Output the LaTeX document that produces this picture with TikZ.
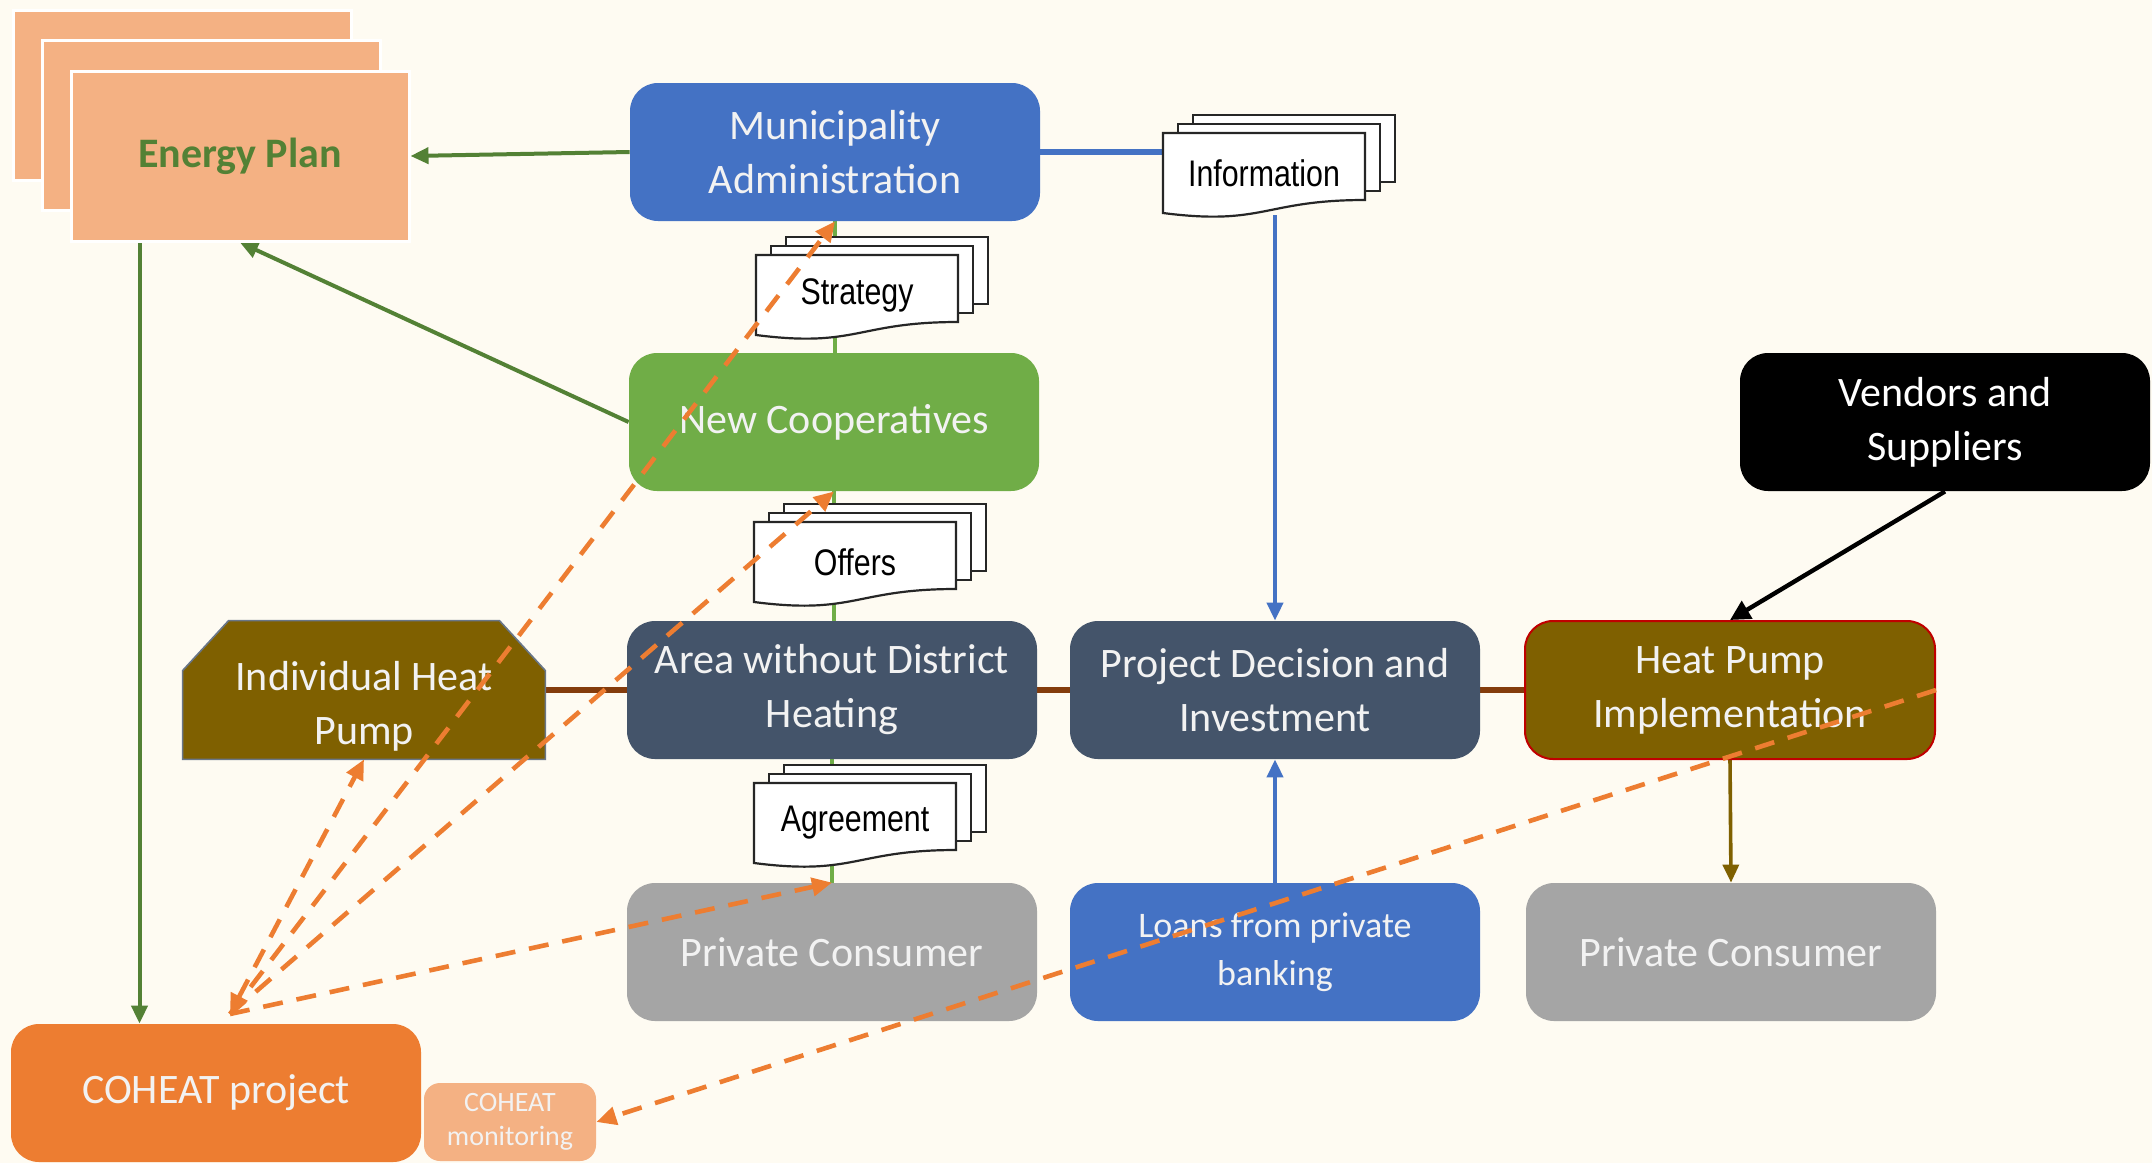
\documentclass[tikz,border=0pt]{standalone}
\usepackage{fontspec}
\setmainfont{Carlito}
\newfontfamily\docfont[FakeStretch=0.82]{Liberation Sans}
\usetikzlibrary{arrows.meta,calc}
\definecolor{bgc}{HTML}{FEFBF2}
\definecolor{mblue}{HTML}{4472C4}
\definecolor{cgreen}{HTML}{70AD47}
\definecolor{dgreen}{HTML}{538135}
\definecolor{slate}{HTML}{44546A}
\definecolor{hpbrown}{HTML}{7F6000}
\definecolor{hpred}{HTML}{C00000}
\definecolor{rust}{HTML}{843C0C}
\definecolor{pcgray}{HTML}{A5A5A5}
\definecolor{corange}{HTML}{ED7D31}
\definecolor{epfill}{HTML}{F4B183}
\definecolor{boxtxt}{HTML}{F2F2F2}
\pgfdeclarelayer{bgl}\pgfdeclarelayer{conl}\pgfdeclarelayer{shl}
\pgfsetlayers{bgl,conl,shl,main}
\newcommand\docstk[4]{%
  \draw[docline] (#2+30,#3-18) rectangle (#2+232,#3+49);
  \draw[docline] (#2+15,#3-9) rectangle (#2+217,#3+58);
  \draw[docline] (#2,#3) -- (#2+202,#3) -- (#2+202,#3+67)
     .. controls (#2+101,#3+67) and (#2+101,#3+93) .. (#2,#3+80) -- cycle;
  \node[inner sep=0pt, minimum width=101pt, minimum height=42pt,
        font=\docfont\fontsize{18.5}{22}\selectfont] (#1) at (#2+101,#3+40) {#4};
}
\begin{document}
\begin{tikzpicture}[x=0.5pt,y=-0.5pt,
  box/.style={rounded corners=14pt, minimum width=205pt, minimum height=69pt,
    inner sep=0pt, align=center, text=boxtxt, font=\fontsize{21}{27}\selectfont},
  epsheet/.style={fill=epfill, draw=white, line width=1.5pt, minimum width=169pt,
    minimum height=85pt, inner sep=0pt},
  docline/.style={fill=white, draw=black!85, line width=1.1pt},
  tip/.style={-{Triangle[length=9pt,width=8pt]}},
  gline/.style={draw=dgreen, line width=2pt, tip},
  gthin/.style={draw=cgreen, line width=1.8pt},
  bline/.style={draw=mblue, line width=2pt},
  odash/.style={draw=corange, line width=2.3pt, dash pattern=on 10pt off 7pt,
    -{Triangle[length=10pt,width=9pt]}},
]
\begin{pgfonlayer}{bgl}
\fill[bgc] (0,0) rectangle (2152,1163);
\end{pgfonlayer}
\useasboundingbox (0,0) rectangle (2152,1163);

% Energy plan stack
\node[epsheet] (ep3) at (182,95) {};
\node[epsheet] (ep2) at (211,125) {};
\node[epsheet, font=\bfseries\fontsize{21}{27}\selectfont, text=dgreen] (ep) at (240,156) {Energy Plan};

% main boxes
\node[box, fill=mblue] (muni) at (835,152) {Municipality\\Administration};
\node[box, fill=cgreen] (coop) at (834,422) {New Cooperatives};
\node[box, fill=slate] (area) at (832,690) {Area without District\\Heating};
\node[box, fill=slate] (proj) at (1275,690) {Project Decision and\\Investment};
\node[box, fill=hpbrown, draw=hpred, line width=1pt] (hpi) at (1730,690) {Heat Pump\\Implementation};
\node[box, fill=black, text=white] (vend) at (1945,422) {Vendors and\\Suppliers};
\node[box, fill=pcgray] (pc1) at (832,952) {Private Consumer};
\node[box, fill=mblue, font=\fontsize{18}{24}\selectfont] (loan) at (1275,952) {Loans from private\\banking};
\node[box, fill=pcgray] (pc2) at (1731,952) {Private Consumer};
\node[box, fill=corange] (coh) at (216,1093) {COHEAT project};
\node[box, fill=epfill, minimum width=86pt, minimum height=39pt, rounded corners=8pt,
      font=\fontsize{14}{17}\selectfont] (mon) at (510,1122) {COHEAT\\monitoring};

% individual heat pump (chamfered top corners)
\node[box, minimum width=181pt] (ihp) at (364,690) {};
\begin{pgfonlayer}{shl}
\filldraw[fill=hpbrown, draw=slate!80, line width=0.8pt]
  ([yshift=-25pt]ihp.north west) -- ([xshift=23pt]ihp.north west)
  -- ([xshift=-23pt]ihp.north east) -- ([yshift=-25pt]ihp.north east)
  -- (ihp.south east) -- (ihp.south west) -- cycle;
\end{pgfonlayer}
\node[align=center, text=boxtxt, font=\fontsize{21}{27}\selectfont, inner sep=0pt]
  (ihptext) at ([yshift=-8pt]ihp.center) {Individual Heat\\Pump};

% documents
\docstk{info}{1163}{133}{Information}
\docstk{strat}{756}{255}{Strategy}
\docstk{offer}{754}{522}{Offers}
\docstk{agree}{754}{783}{Agreement}

% solid connectors
\begin{pgfonlayer}{conl}
\draw[gline] (muni.west) -- (ep.east);
\draw[gline] (coop.west) -- (ep.south);
\draw[gline] ([xshift=35pt]ep.south west) -- ([xshift=35pt]ep.south west |- coh.north);
\draw[gthin] (muni.south) -- (muni.south |- coop.north);
\draw[gthin] (coop.south) -- (coop.south |- area.north);
\draw[gthin] (area.south) -- (area.south |- pc1.north);
\draw[draw=mblue, line width=2.8pt] (muni.east) -- (muni.east -| info.west);
\draw[bline, tip] (proj.north |- info.south) -- (proj.north);
\draw[bline, tip] (loan.north) -- (proj.south);
\draw[draw=rust, line width=3.2pt] (ihp.east) -- (area.west);
\draw[draw=rust, line width=3.2pt] (area.east) -- (proj.west);
\draw[draw=rust, line width=3.2pt] (proj.east) -- (hpi.west);
\draw[draw=black, line width=2.2pt, -{Triangle[length=10pt,width=10pt]}] (vend.south) -- (hpi.north);
\draw[draw=hpbrown, line width=1.8pt, tip] (hpi.south) -- (pc2.north);
\end{pgfonlayer}

% dashed COHEAT connectors (on top)
\coordinate (cA) at (230,1014);
\draw[odash] (cA) -- (muni.south);
\draw[odash] (cA) -- (coop.south);
\draw[odash] (cA) -- (pc1.north);
\draw[odash, {Triangle[length=10pt,width=9pt]}-{Triangle[length=10pt,width=9pt]}] (cA) -- (ihp.south);
\draw[odash] (hpi.east) -- (mon.east);
\end{tikzpicture}
\end{document}
